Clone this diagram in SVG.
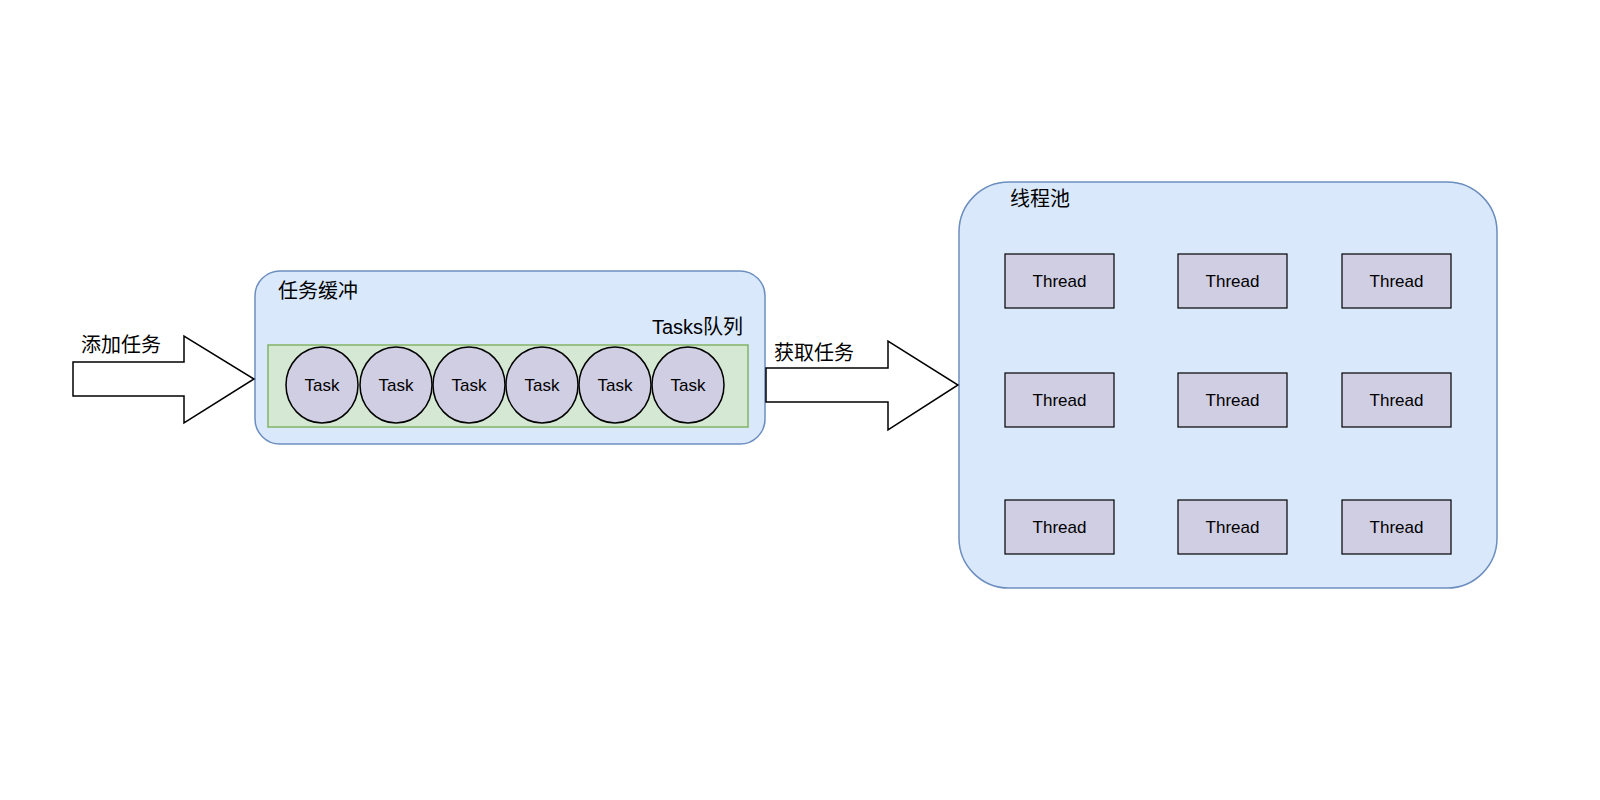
<svg xmlns="http://www.w3.org/2000/svg" width="1600" height="800" viewBox="0 0 1600 800">
<style>
text{font-family:"Liberation Sans","Noto Sans CJK SC",sans-serif;fill:#000}
.c{fill:#dae8fc;stroke:#6c8ebf;stroke-width:1.5}
.t{fill:#d0cee2;stroke:#000;stroke-width:1.5}
.th{fill:#d0cee2;stroke:#000;stroke-width:1.2}
.a{fill:#fff;stroke:#000;stroke-width:1.5}
.s{font-size:17px;text-anchor:middle}
.l{font-size:20px}
</style>
<rect width="1600" height="800" fill="#fff"/>
<g id="buffer"><rect class="c" x="255" y="271" width="510" height="173" rx="25"/><text class="l" x="278" y="298">任务缓冲</text><text class="l" x="743" y="334" text-anchor="end">Tasks队列</text></g>
<g id="queue"><rect x="268" y="345" width="480" height="82" fill="#d5e8d4" stroke="#82b366" stroke-width="1.5"/></g>
<g id="tasks">
<g id="task1"><ellipse class="t" cx="322" cy="385" rx="36" ry="38"/><text class="s" x="322" y="391">Task</text></g>
<g id="task2"><ellipse class="t" cx="396" cy="385" rx="36" ry="38"/><text class="s" x="396" y="391">Task</text></g>
<g id="task3"><ellipse class="t" cx="469" cy="385" rx="36" ry="38"/><text class="s" x="469" y="391">Task</text></g>
<g id="task4"><ellipse class="t" cx="542" cy="385" rx="36" ry="38"/><text class="s" x="542" y="391">Task</text></g>
<g id="task5"><ellipse class="t" cx="615" cy="385" rx="36" ry="38"/><text class="s" x="615" y="391">Task</text></g>
<g id="task6"><ellipse class="t" cx="688" cy="385" rx="36" ry="38"/><text class="s" x="688" y="391">Task</text></g>
</g>
<g id="pool"><rect class="c" x="959" y="182" width="538" height="406" rx="50"/><text class="l" x="1010" y="206">线程池</text></g>
<g id="threads">
<g id="th1"><rect class="th" x="1005" y="254" width="109" height="54"/><text class="s" x="1059.5" y="287">Thread</text></g>
<g id="th2"><rect class="th" x="1178" y="254" width="109" height="54"/><text class="s" x="1232.5" y="287">Thread</text></g>
<g id="th3"><rect class="th" x="1342" y="254" width="109" height="54"/><text class="s" x="1396.5" y="287">Thread</text></g>
<g id="th4"><rect class="th" x="1005" y="373" width="109" height="54"/><text class="s" x="1059.5" y="406">Thread</text></g>
<g id="th5"><rect class="th" x="1178" y="373" width="109" height="54"/><text class="s" x="1232.5" y="406">Thread</text></g>
<g id="th6"><rect class="th" x="1342" y="373" width="109" height="54"/><text class="s" x="1396.5" y="406">Thread</text></g>
<g id="th7"><rect class="th" x="1005" y="500" width="109" height="54"/><text class="s" x="1059.5" y="533">Thread</text></g>
<g id="th8"><rect class="th" x="1178" y="500" width="109" height="54"/><text class="s" x="1232.5" y="533">Thread</text></g>
<g id="th9"><rect class="th" x="1342" y="500" width="109" height="54"/><text class="s" x="1396.5" y="533">Thread</text></g>
</g>
<g id="connectors">
<polygon class="a" points="73,362 184,362 184,336 254,379 184,423 184,396 73,396"/>
<text class="l" x="81" y="352">添加任务</text>
<polygon class="a" points="766,368 888,368 888,341 958,385 888,430 888,402 766,402"/>
<text class="l" x="774" y="360">获取任务</text>
</g>
</svg>
